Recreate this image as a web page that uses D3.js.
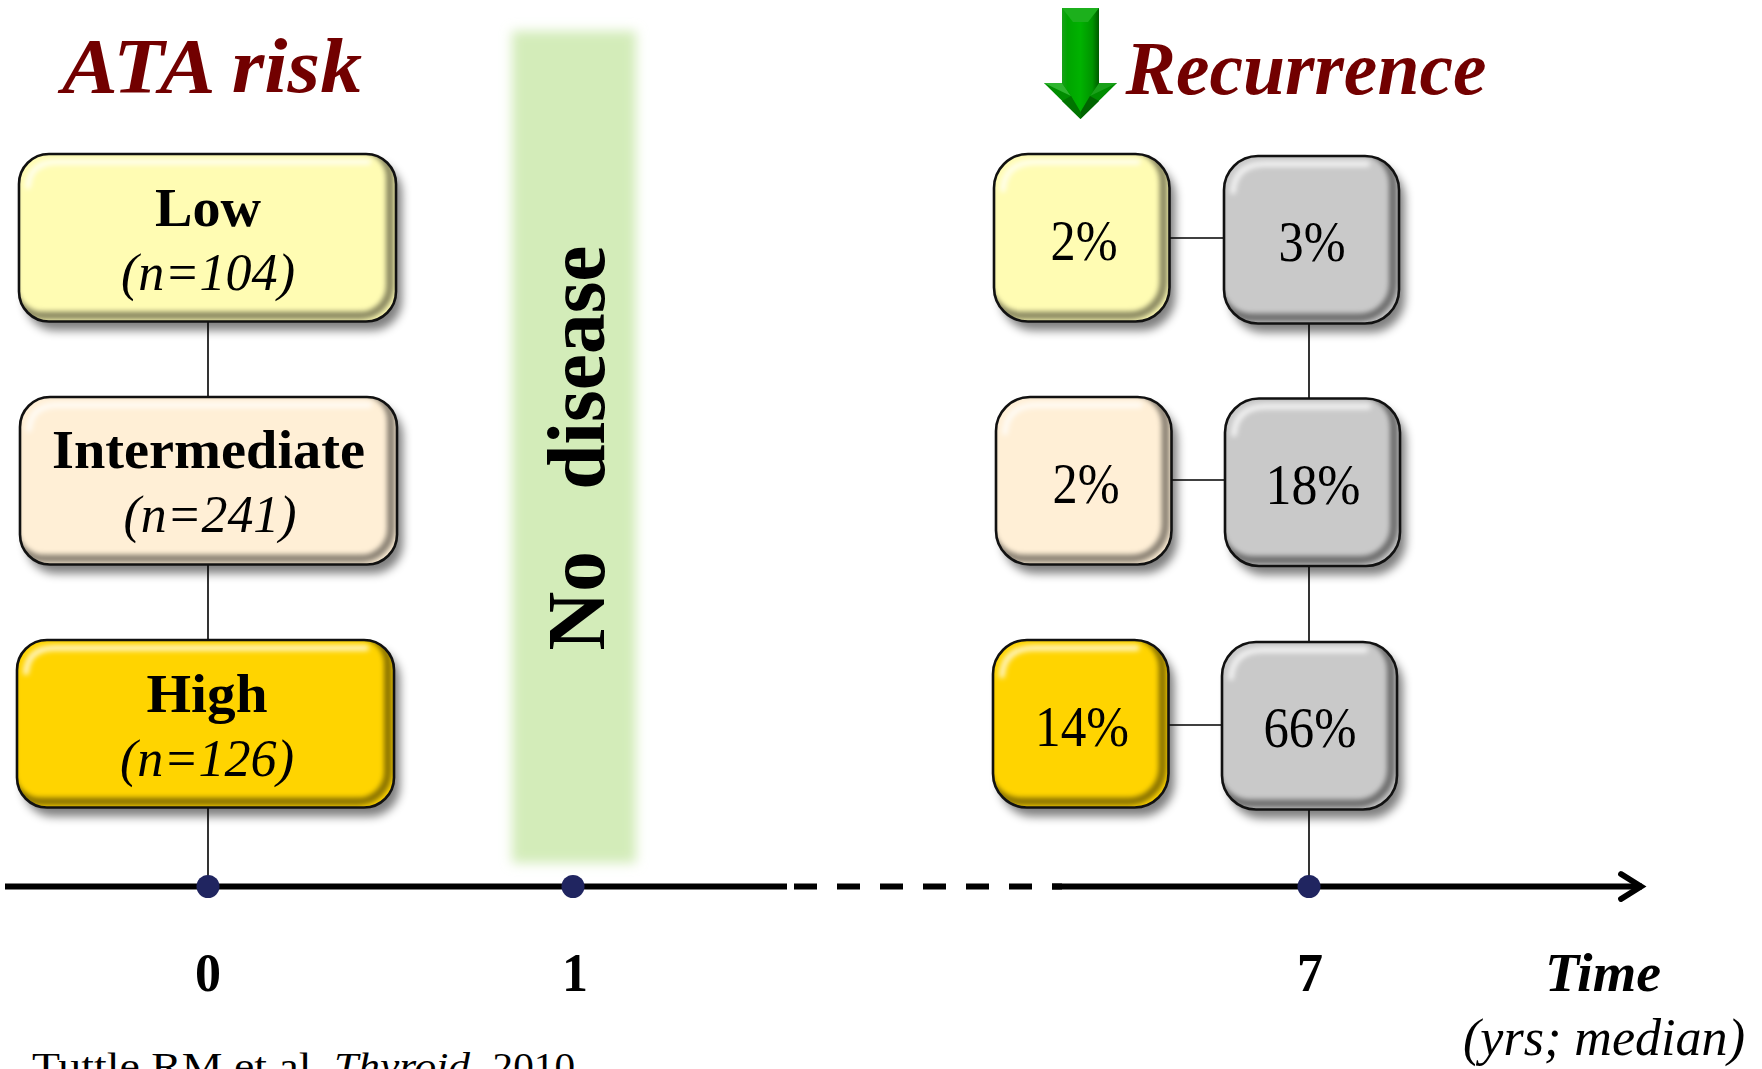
<!DOCTYPE html>
<html>
<head>
<meta charset="utf-8">
<title>ATA risk and recurrence over time</title>
<script src="https://cdn.jsdelivr.net/npm/d3@7"></script>
<style>
  html, body { margin: 0; padding: 0; background: #fff; }
  svg { display: block; }
  text { font-family: "Liberation Serif", serif; }
</style>
</head>
<body>
<svg id="chart" width="1762" height="1069"></svg>
<script>
// Risk groups and follow-up results
const riskGroups = ["Low", "Intermediate", "High"];
const riskCounts = [104, 241, 126];
const recurrenceEarly = [2, 2, 14];
const recurrenceLate = [3, 18, 66];
const tickYears = [0, 1, 7];

// Box fills per risk group
const riskFills = ["#fffcb3", "#ffefd6", "#ffd400"];
const lateFill = "#c9c9c9";

// Hand-placed nudges and label extents for each row
const leftNudge = [0, 1, -2];
const earlyNudge = [0, 2, -1];
const lateNudge = [0, 1, -2];
const lateDrop = [2, 1.5, 2];
const wireDrop = [0, -1, 1];
const riskNameWidth = [106, 313, 121];
const riskNameBase = [226, 468, 712];
const riskCountWidth = [174, 173, 174];
const riskCountX = [208, 210, 207];
const riskCountBase = [290, 532, 776];
const earlyWidth = [67, 67, 94];
const lateWidth = [67, 95, 93];

const svg = d3.select("#chart");
const defs = svg.append("defs");

const x = d3.scaleLinear().domain([0, 1, 7]).range([208, 573, 1310]);
const rowTop = d3.scalePoint().domain(riskGroups).range([154, 640]);
const axisY = 886.5;
const boxH = 167.5;

defs.append("filter").attr("id", "soft").attr("x", "-30%").attr("y", "-30%").attr("width", "160%").attr("height", "160%")
  .append("feGaussianBlur").attr("stdDeviation", 5);
defs.append("filter").attr("id", "bevel").attr("x", "-30%").attr("y", "-30%").attr("width", "160%").attr("height", "160%")
  .append("feGaussianBlur").attr("stdDeviation", 2.4);
defs.append("filter").attr("id", "bandBlur").attr("x", "-20%").attr("y", "-5%").attr("width", "140%").attr("height", "110%")
  .append("feGaussianBlur").attr("stdDeviation", 6);

// Blurred "No disease" band
svg.append("rect")
  .attr("x", x(1) - 61).attr("y", 31).attr("width", 124).attr("height", 832)
  .attr("fill", "#d3ecb9").attr("filter", "url(#bandBlur)");

// Connector lines sit underneath the boxes
const wires = svg.append("g").attr("stroke", "#000").attr("stroke-width", 1.6);
wires.append("line").attr("x1", x(0)).attr("x2", x(0)).attr("y1", 320).attr("y2", axisY);
wires.append("line").attr("x1", x(7) - 1).attr("x2", x(7) - 1).attr("y1", 320).attr("y2", axisY);
wires.selectAll(".h").data(riskGroups).join("line").attr("class", "h")
  .attr("x1", 1165).attr("x2", 1228)
  .attr("y1", (d, i) => rowTop(d) + 84 + wireDrop[i])
  .attr("y2", (d, i) => rowTop(d) + 84 + wireDrop[i]);

// Draws one glossy rounded box with its shadow and bevel
let clipId = 0;
function glossyBox(bx, by, bw, bh, fill, r) {
  const g = svg.append("g").attr("transform", `translate(${bx},${by})`);
  g.append("rect").attr("x", 6).attr("y", 9).attr("width", bw).attr("height", bh).attr("rx", r)
    .attr("fill", "#000").attr("opacity", 0.5).attr("filter", "url(#soft)");
  const id = "clip" + (clipId++);
  defs.append("clipPath").attr("id", id).append("rect")
    .attr("width", bw).attr("height", bh).attr("rx", r);
  g.append("rect").attr("width", bw).attr("height", bh).attr("rx", r).attr("fill", fill);
  const inner = g.append("g").attr("clip-path", `url(#${id})`);
  inner.append("rect").attr("x", -6).attr("y", -6).attr("width", bw).attr("height", bh).attr("rx", r)
    .attr("fill", "none").attr("stroke", "#000").attr("stroke-opacity", 0.45).attr("stroke-width", 8)
    .attr("filter", "url(#bevel)");
  // Highlight runs along the top edge and eases round the upper-left corner
  const sheen = d3.path();
  sheen.moveTo(9, r * 0.8 + 8);
  sheen.quadraticCurveTo(11, 9, r + 6, 8);
  sheen.lineTo(bw - r + 2, 8);
  inner.append("path").attr("d", sheen.toString())
    .attr("fill", "none").attr("stroke", "#fff").attr("stroke-opacity", 0.72).attr("stroke-width", 6)
    .attr("stroke-linecap", "round").attr("filter", "url(#bevel)");
  g.append("rect").attr("width", bw).attr("height", bh).attr("rx", r)
    .attr("fill", "none").attr("stroke", "#111").attr("stroke-width", 2.6);
}

// Fits a label to a known width
function label(txt, cx, base, size, width, weight, style, anchor) {
  return svg.append("text")
    .attr("x", cx).attr("y", base).attr("text-anchor", anchor || "middle")
    .attr("font-size", size).attr("font-weight", weight || "normal").attr("font-style", style || "normal")
    .attr("fill", "#000")
    .attr("textLength", width).attr("lengthAdjust", "spacingAndGlyphs")
    .text(txt);
}

// Left column: risk groups
riskGroups.forEach((name, i) => {
  glossyBox(x(0) - 189 + leftNudge[i], rowTop(name), 377, boxH, riskFills[i], 30);
  label(name, x(0) + leftNudge[i] * 0.5, riskNameBase[i], 54, riskNameWidth[i], "bold");
  label(`(n=${riskCounts[i]})`, riskCountX[i], riskCountBase[i], 52, riskCountWidth[i], "normal", "italic");
});

// Right columns: recurrence percentages
riskGroups.forEach((name, i) => {
  const ex = 994 + earlyNudge[i];
  const lx = x(7) - 86 + lateNudge[i];
  const ty = rowTop(name);
  glossyBox(ex, ty, 175.5, boxH, riskFills[i], 34);
  glossyBox(lx, ty + lateDrop[i], 175, boxH, lateFill, 34);
  label(`${recurrenceEarly[i]}%`, ex + 90 - (i === 2 ? 1 : 0), ty + 106, 56, earlyWidth[i]);
  label(`${recurrenceLate[i]}%`, lx + 88, ty + 107, 56, lateWidth[i]);
});

// Time axis: solid, dashed break, solid with open arrow head
const axis = svg.append("g").attr("stroke", "#000").attr("stroke-width", 5.8).attr("fill", "none");
axis.append("line").attr("x1", 5).attr("x2", 787).attr("y1", axisY).attr("y2", axisY);
axis.append("line").attr("x1", 794).attr("x2", 1062).attr("y1", axisY).attr("y2", axisY).attr("stroke-dasharray", "23 20");
axis.append("line").attr("x1", 1052).attr("x2", 1642).attr("y1", axisY).attr("y2", axisY);
axis.append("path").attr("d", d3.line()([[1621, 874], [1641, axisY], [1621, 899]]))
  .attr("stroke-linecap", "round").attr("stroke-linejoin", "miter");

// Year markers and tick labels
svg.selectAll(".dot").data(tickYears).join("circle").attr("class", "dot")
  .attr("cx", d => x(d) + (d === 7 ? -1 : 0)).attr("cy", axisY).attr("r", 11.5).attr("fill", "#202560");
tickYears.forEach((y, i) => {
  label(String(y), x(y) + (i === 1 ? 2 : 0), 991, 54, 26, "bold");
});

// Headings
label("ATA risk", 212, 92, 78, 300, "bold", "italic").attr("fill", "#720000");
label("Recurrence", 1306, 94, 76, 361, "bold", "italic").attr("fill", "#720000");

// Vertical band label
svg.append("text")
  .attr("transform", `translate(604,448) rotate(-90)`)
  .attr("text-anchor", "middle").attr("font-size", 82).attr("font-weight", "bold")
  .attr("fill", "#000")
  .attr("textLength", 405).attr("lengthAdjust", "spacingAndGlyphs")
  .text("No\u00a0\u00a0\u00a0disease");

// Axis title and citation
label("Time", 1603, 991, 54, 116, "bold", "italic");
label("(yrs; median)", 1604, 1055, 52, 282, "normal", "italic");
label("Tuttle RM et al.", 32, 1079, 38, 291, "normal", "normal", "start");
label("Thyroid", 334, 1079, 38, 136, "normal", "italic", "start");
label(". 2010", 472, 1079, 38, 103, "normal", "normal", "start");

// Green down arrow beside the recurrence heading
const shaftGrad = defs.append("linearGradient").attr("id", "shaftGrad");
[[0, "#18a018"], [0.15, "#00a400"], [0.5, "#00b200"], [0.82, "#009400"], [1, "#005a00"]]
  .forEach(s => shaftGrad.append("stop").attr("offset", s[0]).attr("stop-color", s[1]));
const polygon = d3.line();
const arrow = svg.append("g");
const poly = (pts, fill) => arrow.append("path").attr("d", polygon(pts) + "Z").attr("fill", fill);
poly([[1062, 8], [1099, 8], [1099, 90], [1062, 90]], "url(#shaftGrad)");
poly([[1062, 8], [1099, 8], [1088, 22], [1073, 22]], "#1cb01c");
poly([[1044, 83], [1117, 83], [1080.5, 119]], "#008c00");
poly([[1044, 83], [1062, 83], [1071, 96]], "#2fb52f");
poly([[1117, 83], [1099, 83], [1090, 96]], "#1aa01a");
poly([[1062, 83], [1099, 83], [1090, 96], [1080.5, 112], [1071, 96]], "url(#shaftGrad)");
poly([[1071, 96], [1080.5, 112], [1080.5, 119], [1062, 101]], "#007400");
poly([[1090, 96], [1080.5, 112], [1080.5, 119], [1099, 101]], "#006400");
</script>
</body>
</html>
